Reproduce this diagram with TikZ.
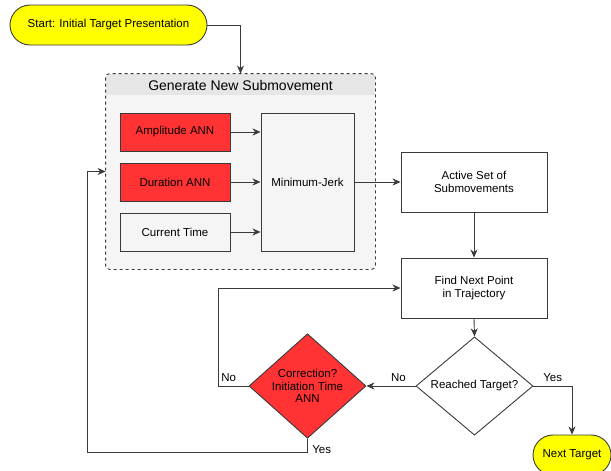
\documentclass[tikz,border=0pt]{standalone}
\usepackage{fontspec}
\setmainfont{Liberation Sans}
\usetikzlibrary{shapes.geometric,arrows.meta}

\definecolor{annred}{HTML}{FF3333}
\definecolor{pillyellow}{HTML}{FFFF00}
\definecolor{bodygray}{HTML}{F5F5F5}
\definecolor{headgray}{HTML}{E6E6E6}
\definecolor{linecol}{HTML}{3A3A3A}

\begin{document}
\begin{tikzpicture}[x=1pt,y=-1pt,
    font=\fontsize{11.5}{12.5}\selectfont,
    line width=0.9pt,
    >={Stealth[length=8pt,width=7pt,inset=2.5pt]},
    box/.style={draw=linecol, rectangle, align=center, inner sep=2pt},
    annbox/.style={box, fill=annred, minimum width=110pt, minimum height=38pt},
    pill/.style={draw=linecol, fill=pillyellow, rounded corners=20pt, minimum height=40pt, inner sep=0pt},
    decision/.style={draw=linecol, diamond, align=center, inner sep=0pt, minimum width=117pt, minimum height=98pt},
    flow/.style={draw=linecol, ->}]
    \useasboundingbox (0,0) rectangle (611,471);

    % Start
    \node[pill, minimum width=197pt] (start) at (108.5,25) {Start: Initial Target Presentation};

    % Group box with header band
    \node[fill=bodygray, minimum width=269pt, minimum height=195pt, inner sep=0pt] (group) at (240.5,171.5) {};
    \begin{scope}
        \clip[rounded corners=4pt] (group.north west) rectangle (group.south east);
        \fill[headgray] (106,74) rectangle (375,95);
    \end{scope}
    \draw[linecol, dashed, rounded corners=4pt] (group.north west) rectangle (group.south east);
    \node[font=\fontsize{14}{16}\selectfont] (title) at (240.5,85) {Generate New Submovement};

    % Inputs of the minimum-jerk model
    \node[annbox] (amp) at (175,132) {Amplitude ANN};
    \node[annbox] (dur) at (175,182) {Duration ANN};
    \node[box, fill=bodygray, minimum width=110pt, minimum height=38pt] (cur) at (175,232) {Current Time};
    \node[box, fill=bodygray, minimum width=93pt, minimum height=138pt] (mj) at (307.5,182) {Minimum-Jerk};

    % Right column
    \node[box, fill=white, minimum width=146pt, minimum height=60pt] (active) at (474,182) {Active Set of\\Submovements};
    \node[box, fill=white, minimum width=146pt, minimum height=60pt] (find) at (474,288) {Find Next Point\\in Trajectory};
    \node[decision, fill=white] (reach) at (474.5,386) {Reached Target?};
    \node[decision, fill=annred] (corr) at (307.5,386) {Correction?\\Initiation Time\\ANN};
    \node[pill, minimum width=78pt] (next) at (572,455) {Next Target};

    % Turning points of the loops
    \coordinate (noturn) at (218,386);
    \coordinate (yesturn) at (87,452);

    % Connectors
    \draw[flow] (start.east) -| (group.north);
    \draw[flow] (amp.east) -- (amp.east -| mj.west);
    \draw[flow] (dur.east) -- (dur.east -| mj.west);
    \draw[flow] (cur.east) -- (cur.east -| mj.west);
    \draw[flow] (mj.east) -- (active.west);
    \draw[flow] (active.south) -- (find.north);
    \draw[flow] (find.south) -- (reach.north);
    \draw[flow] (reach.east) -| node[pos=0.25, above=1pt] {Yes} (next.north);
    \draw[flow] (reach.west) -- node[pos=0.35, above=1pt] {No} (corr.east);
    \draw[flow] (corr.west) -- node[pos=0.65, above=1pt] {No} (noturn) |- (find.west);
    \draw[flow] (corr.south) |- node[pos=0.4, right=1pt] {Yes} (yesturn) |- (group.west);
\end{tikzpicture}
\end{document}
